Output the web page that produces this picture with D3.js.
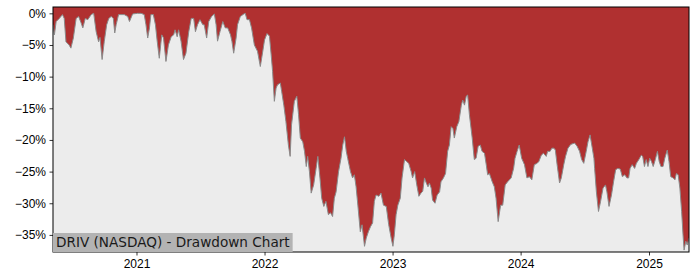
<!DOCTYPE html>
<html lang="en">

<head>
  <meta charset="UTF-8">
  <title>DRIV (NASDAQ) - Drawdown Chart</title>
  <script src="https://d3js.org/d3.v7.min.js"></script>
  <style>
    body {
      margin: 0;
      background: #fff;
      font-family: "DejaVu Sans", sans-serif;
    }

    .tick text {
      font-size: 12px;
      fill: #000;
    }

    .chart-label {
      font-size: 13.6px;
      fill: #1a1a1a;
    }
  </style>
</head>

<body>
  <div id="chart"></div>

  <script>
    // drawdown (percent below running peak)
    const dates = [
      "2020-05-08", "2020-05-12", "2020-05-17", "2020-05-26", "2020-06-04", "2020-06-09", "2020-06-14", "2020-06-23",
      "2020-06-28", "2020-07-05", "2020-07-13", "2020-07-20", "2020-07-27", "2020-08-01", "2020-08-08", "2020-08-15",
      "2020-08-25", "2020-09-01", "2020-09-08", "2020-09-15", "2020-09-19", "2020-09-25", "2020-10-01", "2020-10-08",
      "2020-10-14", "2020-10-21", "2020-10-27", "2020-10-31", "2020-11-04", "2020-11-11", "2020-11-27", "2020-12-07",
      "2020-12-12", "2020-12-21", "2021-01-04", "2021-01-14", "2021-01-23", "2021-01-28", "2021-02-02", "2021-02-07",
      "2021-02-11", "2021-02-18", "2021-02-24", "2021-03-01", "2021-03-07", "2021-03-14", "2021-03-19", "2021-03-26",
      "2021-04-02", "2021-04-10", "2021-04-17", "2021-04-21", "2021-04-27", "2021-05-01", "2021-05-08", "2021-05-15",
      "2021-05-22", "2021-05-30", "2021-06-06", "2021-06-13", "2021-06-18", "2021-06-24", "2021-07-01", "2021-07-09",
      "2021-07-13", "2021-07-20", "2021-07-26", "2021-08-03", "2021-08-11", "2021-08-16", "2021-08-20", "2021-08-27",
      "2021-09-04", "2021-09-11", "2021-09-18", "2021-09-26", "2021-09-30", "2021-10-05", "2021-10-12", "2021-10-16",
      "2021-10-24", "2021-11-03", "2021-11-07", "2021-11-12", "2021-11-19", "2021-11-25", "2021-12-03", "2021-12-12",
      "2021-12-20", "2021-12-27", "2022-01-01", "2022-01-08", "2022-01-15", "2022-01-20", "2022-01-24", "2022-01-29",
      "2022-02-03", "2022-02-07", "2022-02-15", "2022-02-19", "2022-02-25", "2022-03-03", "2022-03-10", "2022-03-15",
      "2022-03-19", "2022-03-27", "2022-04-03", "2022-04-08", "2022-04-13", "2022-04-20", "2022-04-25", "2022-04-30",
      "2022-05-04", "2022-05-09", "2022-05-14", "2022-05-21", "2022-05-28", "2022-06-02", "2022-06-08", "2022-06-13",
      "2022-06-19", "2022-06-25", "2022-07-02", "2022-07-08", "2022-07-14", "2022-07-19", "2022-07-24", "2022-07-31",
      "2022-08-07", "2022-08-12", "2022-08-17", "2022-08-22", "2022-08-26", "2022-09-03", "2022-09-09", "2022-09-14",
      "2022-09-19", "2022-09-24", "2022-10-01", "2022-10-06", "2022-10-13", "2022-10-18", "2022-10-24", "2022-10-30",
      "2022-11-05", "2022-11-10", "2022-11-15", "2022-11-23", "2022-11-29", "2022-12-06", "2022-12-14", "2022-12-21",
      "2022-12-28", "2023-01-02", "2023-01-06", "2023-01-11", "2023-01-16", "2023-01-23", "2023-01-28", "2023-02-04",
      "2023-02-10", "2023-02-16", "2023-02-23", "2023-02-27", "2023-03-05", "2023-03-11", "2023-03-17", "2023-03-23",
      "2023-03-28", "2023-04-02", "2023-04-07", "2023-04-12", "2023-04-16", "2023-04-21", "2023-04-25", "2023-05-02",
      "2023-05-08", "2023-05-15", "2023-05-19", "2023-05-26", "2023-06-01", "2023-06-07", "2023-06-12", "2023-06-17",
      "2023-06-22", "2023-06-26", "2023-07-03", "2023-07-09", "2023-07-16", "2023-07-20", "2023-07-25", "2023-07-30",
      "2023-08-03", "2023-08-08", "2023-08-16", "2023-08-22", "2023-08-27", "2023-09-02", "2023-09-08", "2023-09-13",
      "2023-09-20", "2023-09-25", "2023-09-29", "2023-10-04", "2023-10-12", "2023-10-18", "2023-10-23", "2023-10-29",
      "2023-11-05", "2023-11-11", "2023-11-18", "2023-11-25", "2023-12-05", "2023-12-12", "2023-12-16", "2023-12-22",
      "2023-12-28", "2024-01-04", "2024-01-12", "2024-01-19", "2024-01-26", "2024-02-02", "2024-02-09", "2024-02-17",
      "2024-02-22", "2024-02-29", "2024-03-06", "2024-03-14", "2024-03-18", "2024-03-25", "2024-03-30", "2024-04-05",
      "2024-04-09", "2024-04-14", "2024-04-21", "2024-04-26", "2024-05-03", "2024-05-08", "2024-05-15", "2024-05-23",
      "2024-06-03", "2024-06-10", "2024-06-17", "2024-06-23", "2024-06-29", "2024-07-06", "2024-07-11", "2024-07-17",
      "2024-07-23", "2024-07-28", "2024-07-30", "2024-08-04", "2024-08-10", "2024-08-16", "2024-08-23", "2024-08-30",
      "2024-09-03", "2024-09-09", "2024-09-16", "2024-09-22", "2024-09-28", "2024-10-04", "2024-10-11", "2024-10-17",
      "2024-10-24", "2024-10-30", "2024-11-04", "2024-11-08", "2024-11-14", "2024-11-21", "2024-11-26", "2024-12-03",
      "2024-12-10", "2024-12-14", "2024-12-19", "2024-12-24", "2024-12-29", "2025-01-03", "2025-01-08", "2025-01-13",
      "2025-01-19", "2025-01-25", "2025-01-30", "2025-02-04", "2025-02-10", "2025-02-15", "2025-02-22", "2025-02-27",
      "2025-03-04", "2025-03-11", "2025-03-16", "2025-03-20", "2025-03-25", "2025-03-30", "2025-04-04", "2025-04-08",
      "2025-04-11", "2025-04-16", "2025-04-20", "2025-04-25"
    ];

    const drawdown = [
      -1.8, -3.4, -1.3, -0.8, -0.2, -0.8, -4.5, -5.0,
      -5.5, -3.9, -0.8, -0.5, -1.5, -2.3, -0.8, -1.0,
      -0.2, 0.0, -2.9, -4.5, -3.8, -7.3, -4.5, -1.8,
      -0.8, -0.5, -0.8, -3.1, -1.8, -0.2, -0.2, -0.5,
      -1.3, -0.1, 0.0, 0.0, -0.2, -1.8, -3.9, -2.3,
      -0.2, -0.2, -1.8, -4.4, -7.1, -3.4, -3.9, -7.6,
      -5.0, -3.7, -3.4, -2.6, -3.7, -2.6, -4.4, -7.3,
      -6.3, -2.9, -0.8, -0.8, -2.9, -1.8, -1.0, -1.8,
      -1.8, -3.9, -1.3, -0.5, -0.1, -1.8, -4.4, -2.9,
      -1.3, -2.3, -2.3, -3.4, -4.4, -6.3, -3.9, -1.8,
      -0.5, -0.1, 0.0, -1.0, -1.0, -2.3, -5.0, -6.0,
      -8.4, -6.0, -4.2, -3.2, -3.6, -6.6, -9.2, -13.9,
      -11.8, -11.3, -11.0, -12.4, -14.5, -17.1, -20.8, -22.6,
      -17.6, -13.9, -13.1, -16.0, -19.7, -20.3, -21.8, -24.2,
      -22.6, -25.0, -28.4, -27.1, -24.5, -22.6, -26.0, -29.2,
      -30.5, -29.7, -31.8, -31.5, -32.1, -29.2, -28.2, -25.0,
      -22.9, -20.8, -19.5, -21.8, -22.9, -25.0, -26.0, -25.5,
      -27.4, -30.3, -34.5, -33.4, -36.8, -35.5, -34.5, -33.7,
      -33.1, -29.7, -28.7, -28.9, -28.4, -30.3, -30.5, -33.4,
      -35.5, -36.8, -35.0, -31.8, -30.3, -29.2, -26.0, -23.1,
      -23.4, -23.7, -25.0, -26.0, -25.0, -27.1, -28.9, -28.4,
      -28.1, -26.0, -26.8, -27.4, -26.8, -27.6, -29.5, -30.0,
      -28.7, -28.2, -26.6, -26.0, -25.3, -21.8, -20.8, -17.9,
      -18.2, -19.7, -17.9, -17.1, -14.5, -13.7, -14.5, -13.1,
      -12.9, -16.0, -19.7, -23.1, -22.9, -21.0, -20.8, -21.8,
      -22.1, -23.9, -25.5, -25.3, -26.6, -27.4, -29.2, -32.9,
      -30.3, -30.3, -27.1, -26.6, -26.0, -24.5, -22.9, -21.8,
      -20.8, -22.9, -23.9, -26.0, -25.8, -26.3, -23.9, -23.7,
      -23.4, -22.4, -22.1, -22.6, -21.8, -21.8, -21.3, -21.3,
      -21.6, -23.9, -26.8, -26.0, -23.9, -22.6, -21.3, -20.7,
      -20.5, -21.0, -21.8, -23.1, -23.7, -21.8, -20.3, -19.2,
      -21.2, -22.9, -24.5, -28.2, -31.3, -29.7, -27.6, -27.1,
      -28.2, -30.5, -28.7, -26.6, -24.7, -24.5, -24.6, -25.8,
      -25.5, -26.0, -26.0, -24.5, -23.9, -24.5, -23.7, -23.1,
      -22.4, -22.6, -24.2, -23.1, -24.2, -22.9, -23.4, -24.2,
      -23.1, -21.8, -23.4, -24.2, -24.2, -22.9, -21.6, -23.4,
      -25.8, -26.0, -26.3, -25.3, -25.5, -27.6, -31.3, -35.0,
      -37.4, -36.0, -36.6, -35.5
    ];

    const yTicks = [0, -5, -10, -15, -20, -25, -30, -35];
    const xTickYears = [2021, 2022, 2023, 2024, 2025];
    const chartLabel = "DRIV (NASDAQ) - Drawdown Chart";

    const parseDate = d3.timeParse("%Y-%m-%d");
    const data = dates.map((d, i) => ({ date: parseDate(d), dd: drawdown[i] }));

    const W = 700, H = 280;
    const margin = { top: 7, right: 11, bottom: 28, left: 53 };
    const width = W - margin.left - margin.right;
    const height = H - margin.top - margin.bottom;

    const svg = d3.select("#chart").append("svg")
      .attr("width", W)
      .attr("height", H);

    const g = svg.append("g")
      .attr("transform", `translate(${margin.left},${margin.top})`);

    const x = d3.scaleTime()
      .domain(d3.extent(data, d => d.date))
      .range([0, width]);

    const y = d3.scaleLinear()
      .domain([-37.7, 1.0])
      .range([height, 0]);

    g.append("clipPath")
      .attr("id", "clip")
      .append("rect")
      .attr("width", width)
      .attr("height", height);

    // plot background
    g.append("rect")
      .attr("width", width)
      .attr("height", height)
      .attr("fill", "#ececec");

    const plot = g.append("g").attr("clip-path", "url(#clip)");

    const area = d3.area()
      .x(d => x(d.date))
      .y0(y(y.domain()[1]))
      .y1(d => y(d.dd));

    plot.append("path")
      .datum(data)
      .attr("fill", "#b03030")
      .attr("d", area);

    const line = d3.line()
      .x(d => x(d.date))
      .y(d => y(d.dd));

    plot.append("path")
      .datum(data)
      .attr("fill", "none")
      .attr("stroke", "#8a8a8a")
      .attr("stroke-width", 1)
      .attr("d", line);

    // axes
    const fmtPct = v => (v < 0 ? "\u2212" + Math.abs(v) : v) + "%";

    g.append("g")
      .call(d3.axisLeft(y).tickValues(yTicks).tickFormat(fmtPct).tickSize(3.5).tickPadding(3.5))
      .call(a => a.select(".domain").remove());

    g.append("g")
      .attr("transform", `translate(0,${height})`)
      .call(d3.axisBottom(x)
        .tickValues(xTickYears.map(yr => new Date(yr, 0, 1)))
        .tickFormat(d3.timeFormat("%Y"))
        .tickSize(3.5).tickPadding(3.5))
      .call(a => a.select(".domain").remove());

    g.selectAll(".tick line").attr("stroke", "#000").attr("stroke-width", 0.8);

    // frame
    g.append("rect")
      .attr("width", width)
      .attr("height", height)
      .attr("fill", "none")
      .attr("stroke", "#000")
      .attr("stroke-width", 1);

    // label box at the bottom left
    const label = g.append("g");
    const labelText = label.append("text")
      .attr("class", "chart-label")
      .attr("x", 3)
      .attr("y", height - 5)
      .text(chartLabel);
    const bb = labelText.node().getBBox();
    label.insert("rect", "text")
      .attr("x", 0)
      .attr("y", height - 19)
      .attr("width", bb.width + 6)
      .attr("height", 19)
      .attr("fill", "#b3b3b3");
  </script>
</body>

</html>
